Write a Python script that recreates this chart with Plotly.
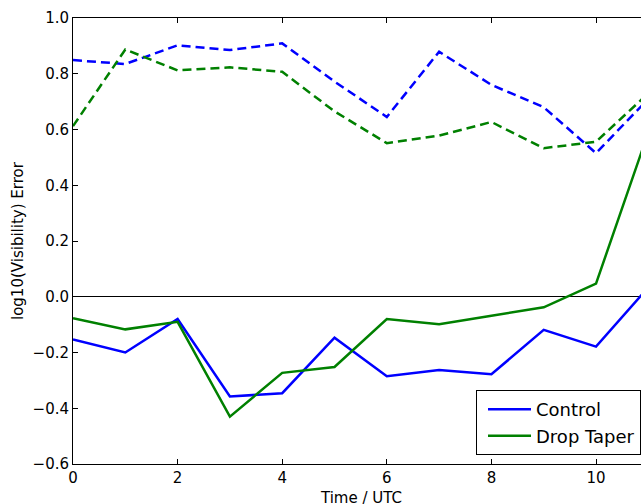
import plotly.graph_objects as go

hours = [0, 1, 2, 3, 4, 5, 6, 7, 8, 9, 10, 11]

control_mean = [-0.153, -0.200, -0.080, -0.358, -0.346, -0.147, -0.285, -0.263, -0.278, -0.119, -0.179, 0.034]
taper_mean = [-0.077, -0.117, -0.090, -0.430, -0.273, -0.252, -0.080, -0.099, -0.068, -0.038, 0.047, 0.59]
control_spread = [0.849, 0.835, 0.902, 0.885, 0.909, 0.772, 0.645, 0.879, 0.760, 0.680, 0.515, 0.71]
taper_spread = [0.612, 0.887, 0.812, 0.823, 0.807, 0.665, 0.551, 0.578, 0.627, 0.533, 0.556, 0.73]

BLUE = "#0000ff"
GREEN = "#008000"
FONT = "DejaVu Sans"

fig = go.Figure()
fig.add_trace(go.Scatter(x=hours, y=control_mean, mode="lines", name="Control",
                         line=dict(color=BLUE, width=2.5)))
fig.add_trace(go.Scatter(x=hours, y=taper_mean, mode="lines", name="Drop Taper",
                         line=dict(color=GREEN, width=2.5)))
fig.add_trace(go.Scatter(x=hours, y=control_spread, mode="lines", showlegend=False,
                         line=dict(color=BLUE, width=2.5, dash="9px,5px")))
fig.add_trace(go.Scatter(x=hours, y=taper_spread, mode="lines", showlegend=False,
                         line=dict(color=GREEN, width=2.5, dash="9px,5px")))

fig.update_layout(
    width=641, height=504,
    margin=dict(l=73, r=0, t=18, b=40),
    paper_bgcolor="white", plot_bgcolor="white",
    font=dict(family=FONT, size=15, color="black"),
    showlegend=True,
    legend=dict(x=1, xanchor="right", y=0.02, yanchor="bottom",
                bordercolor="black", borderwidth=1, bgcolor="white",
                font=dict(family=FONT, size=18, color="black"),
                tracegroupgap=0, indentation=6, itemwidth=43),
    xaxis=dict(range=[0, 10.86], dtick=2, tick0=0, showgrid=False, zeroline=False,
               showline=True, linecolor="black", linewidth=1, mirror="ticks",
               ticks="inside", ticklen=5, tickcolor="black",
               tickfont=dict(family=FONT, size=15, color="black")),
    yaxis=dict(range=[-0.6, 1.0], dtick=0.2, tick0=0, tickformat=".1f", showgrid=False,
               zeroline=True, zerolinecolor="black", zerolinewidth=1,
               showline=True, linecolor="black", linewidth=1, mirror=False,
               ticks="inside", ticklen=5, tickcolor="black",
               tickfont=dict(family=FONT, size=15, color="black")),
    annotations=[
        dict(text="Time / UTC", xref="paper", yref="paper", x=(361 - 73) / 568, y=0,
             xanchor="center", yanchor="middle", yshift=-34, showarrow=False,
             font=dict(family=FONT, size=15, color="black")),
        dict(text="log10(Visibility) Error", xref="paper", yref="paper", x=0, y=0.5,
             xanchor="center", yanchor="middle", xshift=-55, textangle=-90, showarrow=False,
             font=dict(family=FONT, size=15, color="black")),
    ],
)

fig.write_html("out.html")
